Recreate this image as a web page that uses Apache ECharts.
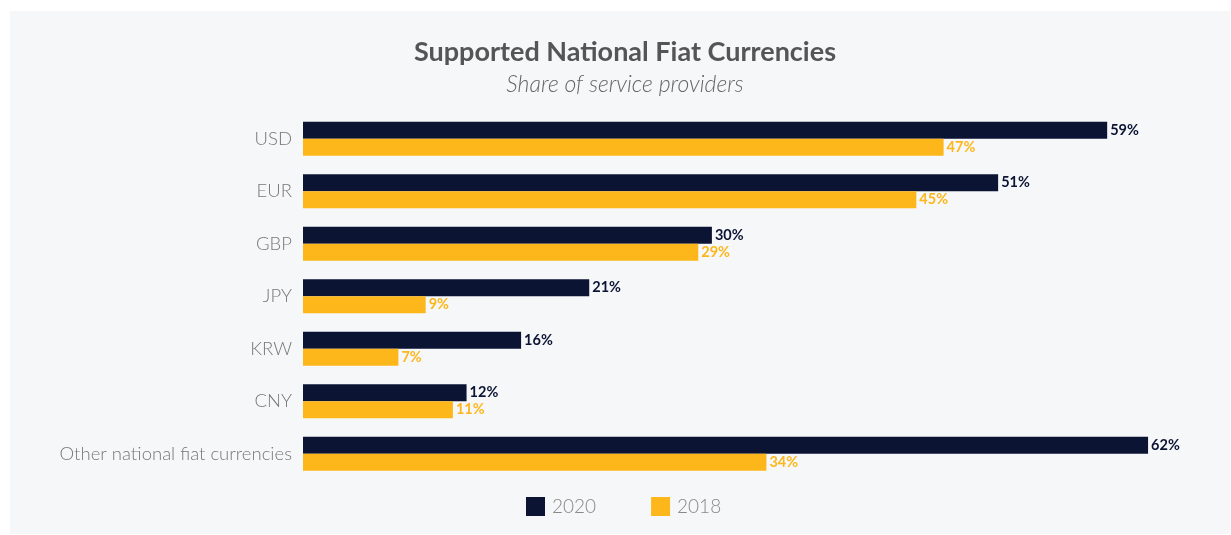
<!DOCTYPE html>
<html>
<head>
<meta charset="utf-8">
<script src="https://cdn.jsdelivr.net/npm/echarts@6/dist/echarts.min.js"></script>
<style>
html,body{margin:0;padding:0;background:#ffffff;}
#chart{width:1231px;height:535px;}
</style>
</head>
<body>
<div id="chart"></div>
<script>
var categories = ['USD', 'EUR', 'GBP', 'JPY', 'KRW', 'CNY', 'Other national fiat currencies'];
var values2020 = [59, 51, 30, 21, 16, 12, 62];
var values2018 = [47, 45, 29, 9, 7, 11, 34];
var seriesNames = ['2020', '2018'];
var colors = ['#0c1434', '#fdb71b'];

var chart = echarts.init(document.getElementById('chart'), null, {renderer: 'canvas'});
var labelFmt = function (p) { return p.value + '%'; };
chart.setOption({
  backgroundColor: '#ffffff',
  animation: false,
  graphic: [{
    type: 'rect', z: -10, silent: true,
    shape: {x: 10, y: 11, width: 1220, height: 523},
    style: {fill: '#f6f7f9'}
  }],
  title: {
    text: 'Supported National Fiat Currencies',
    subtext: 'Share of service providers',
    left: 620, top: 34, textAlign: 'center',
    itemGap: 7,
    textStyle: {fontFamily: 'Lato', fontWeight: 'bold', fontSize: 27, color: '#555555'},
    subtextStyle: {fontFamily: 'Lato', fontStyle: 'italic', fontWeight: 300, fontSize: 23, color: '#666666'}
  },
  legend: {
    data: seriesNames,
    bottom: 14, left: 521,
    itemWidth: 19, itemHeight: 19, itemGap: 55,
    icon: 'rect',
    textStyle: {fontFamily: 'Lato', fontSize: 19, color: '#888888', fontWeight: 300, padding: [0,0,0,2]}
  },
  grid: {left: 303, top: 112.5, width: 66 * 13.63, height: 367.5, containLabel: false},
  xAxis: {
    type: 'value', min: 0, max: 66,
    show: false
  },
  yAxis: {
    type: 'category', data: categories, inverse: true,
    axisLine: {show: false}, axisTick: {show: false}, splitLine: {show: false},
    axisLabel: {fontFamily: 'Lato', fontSize: 18.5, fontWeight: 300, color: '#777777', margin: 11}
  },
  series: [{
    name: seriesNames[0], type: 'bar', data: values2020,
    barWidth: 17, barGap: '0%',
    itemStyle: {color: colors[0]},
    label: {show: true, position: 'right', distance: 3, formatter: labelFmt,
      fontFamily: 'Lato', fontWeight: 'bold', fontSize: 14.5, color: '#0c1434'}
  }, {
    name: seriesNames[1], type: 'bar', data: values2018,
    barWidth: 17, barGap: '0%',
    itemStyle: {color: colors[1]},
    label: {show: true, position: 'right', distance: 3, formatter: labelFmt,
      fontFamily: 'Lato', fontWeight: 'bold', fontSize: 14.5, color: '#fdb71b'}
  }]
});
</script>
</body>
</html>
